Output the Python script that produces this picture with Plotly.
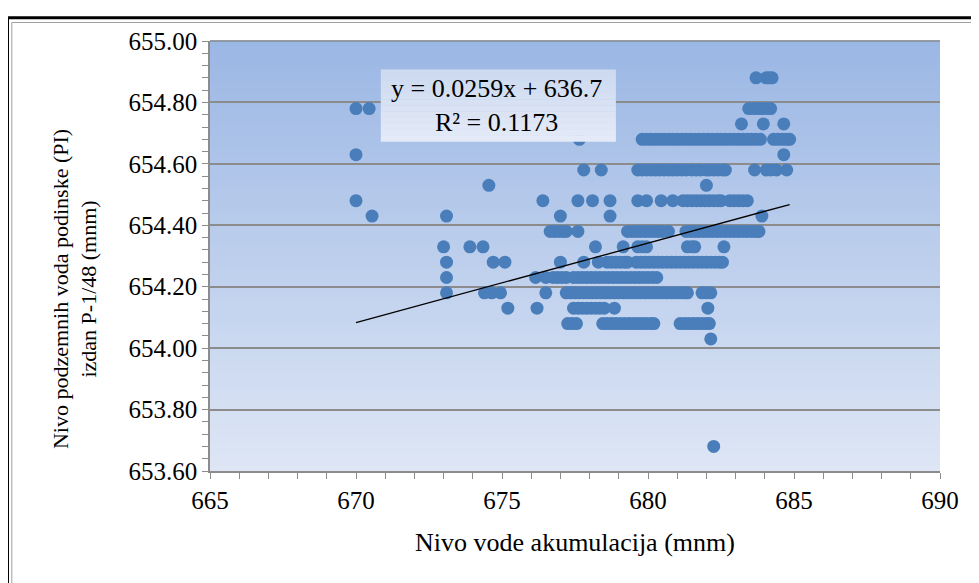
import plotly.graph_objects as go

# water level points, grouped by groundwater level (y)
x_65488 = [683.7, 684.05, 684.15, 684.25]
x_65478 = [670.0, 670.45, 683.45, 683.6, 683.75, 683.9, 684.05, 684.2]
x_65473 = [683.2, 683.95, 684.65]
x_65468 = [677.65, 679.8, 679.95, 680.1, 680.25, 680.4, 680.55, 680.7, 680.85, 681.0, 681.15,
           681.3, 681.45, 681.6, 681.75, 681.9, 682.05, 682.2, 682.35, 682.5, 682.65, 682.8,
           682.95, 683.1, 683.25, 683.4, 683.55, 683.7, 683.85, 684.3, 684.45, 684.6, 684.75, 684.85]
x_65463 = [670.0, 684.65]
x_65458 = [677.8, 678.4, 679.65, 679.8, 679.95, 680.1, 680.25, 680.4, 680.55, 680.7, 680.85,
           681.0, 681.15, 681.3, 681.5, 681.65, 681.8, 682.0, 682.1, 682.25, 682.4, 682.55,
           682.65, 683.65, 684.05, 684.2, 684.4, 684.75]
x_65453 = [674.55, 682.0]
x_65448 = [670.0, 676.4, 677.6, 678.1, 678.7, 679.65, 679.95, 680.45, 680.85, 681.2, 681.35,
           681.5, 681.65, 681.8, 681.95, 682.1, 682.25, 682.4, 682.5, 682.8, 682.95, 683.1,
           683.25, 683.4]
x_65443 = [670.55, 673.1, 677.0, 678.7, 683.9]
x_65438 = [676.65, 676.8, 676.95, 677.1, 677.2, 677.6, 679.3, 679.45, 679.6, 679.75, 679.9,
           680.05, 680.2, 680.35, 680.5, 680.7, 681.3, 681.45, 681.6, 681.75, 681.9, 682.05,
           682.2, 682.35, 682.5, 682.65, 682.8, 682.95, 683.1, 683.25, 683.4, 683.55, 683.7, 683.8]
x_65433 = [673.0, 673.9, 674.35, 678.2, 679.15, 679.65, 679.8, 679.95, 681.35, 681.5, 681.6, 682.6]
x_65428 = [673.1, 674.7, 675.1, 677.0, 677.8, 678.3, 678.6, 678.75, 678.9, 679.05, 679.2, 679.3,
           679.6, 679.75, 679.9, 680.05, 680.2, 680.35, 680.5, 680.65, 680.8, 680.95, 681.1,
           681.25, 681.4, 681.55, 681.7, 681.85, 682.0, 682.15, 682.3, 682.45, 682.55]
x_65423 = [673.1, 676.15, 676.5, 676.75, 676.9, 677.05, 677.2, 677.45, 677.6, 677.75, 677.9,
           678.05, 678.2, 678.35, 678.5, 678.65, 678.8, 678.95, 679.1, 679.25, 679.4, 679.55,
           679.7, 679.85, 680.0, 680.15, 680.3]
x_65418 = [673.1, 674.4, 674.65, 674.95, 676.5, 677.2, 677.35, 677.5, 677.65, 677.8, 677.95,
           678.1, 678.25, 678.4, 678.55, 678.7, 678.85, 679.0, 679.15, 679.3, 679.45, 679.6,
           679.75, 679.9, 680.05, 680.2, 680.35, 680.5, 680.65, 680.8, 680.95, 681.1, 681.25,
           681.35, 681.85, 682.0, 682.15]
x_65413 = [675.2, 676.2, 677.45, 677.6, 677.75, 677.9, 678.05, 678.2, 678.35, 678.5, 678.85, 682.05]
x_65408 = [677.25, 677.4, 677.55, 678.45, 678.6, 678.75, 678.9, 679.05, 679.2, 679.35, 679.5,
           679.65, 679.8, 679.95, 680.1, 680.2, 681.1, 681.25, 681.4, 681.55, 681.7, 681.85,
           682.0, 682.1]
x_65403 = [682.15]
x_65368 = [682.25]

rows = {654.88: x_65488, 654.78: x_65478, 654.73: x_65473, 654.68: x_65468, 654.63: x_65463,
        654.58: x_65458, 654.53: x_65453, 654.48: x_65448, 654.43: x_65443, 654.38: x_65438,
        654.33: x_65433, 654.28: x_65428, 654.23: x_65423, 654.18: x_65418, 654.13: x_65413,
        654.08: x_65408, 654.03: x_65403, 653.68: x_65368}

slope = 0.0259
intercept = 636.73
eq_text = "y = 0.0259x + 636.7<br>R² = 0.1173"

xs, ys = [], []
for lvl, row in rows.items():
    xs += row
    ys += [lvl] * len(row)

fig = go.Figure()
fig.add_trace(go.Scatter(x=xs, y=ys, mode="markers",
                         marker=dict(color="#4A7EBB", size=13, line=dict(width=0)),
                         showlegend=False))
x_line = [min(xs), max(xs)]
fig.add_trace(go.Scatter(x=x_line, y=[slope * v + intercept for v in x_line], mode="lines",
                         line=dict(color="black", width=1.3), showlegend=False))

# gradient plot background (strips)
n = 80
top, bot = (155, 183, 228), (222, 230, 245)
shapes = []
for i in range(n):
    t = i / (n - 1)
    c = tuple(round(top[k] + (bot[k] - top[k]) * t) for k in range(3))
    shapes.append(dict(type="rect", xref="x domain", yref="y domain", x0=0, x1=1,
                       y0=1 - (i + 1) / n, y1=1 - i / n + 0.002, layer="below",
                       line=dict(width=0), fillcolor="rgb(%d,%d,%d)" % c))
# top gridline at 655.00
shapes.append(dict(type="line", xref="x domain", yref="y domain", x0=0, x1=1, y0=1, y1=1,
                   line=dict(color="#8C8C8C", width=1.5), layer="below"))

# equation box
btop, bbot = (205, 218, 240), (228, 234, 247)
m = 12
for i in range(m):
    t = i / (m - 1)
    c = tuple(round(btop[k] + (bbot[k] - btop[k]) * t) for k in range(3))
    y1 = 0.9326 - (0.9326 - 0.7658) * i / m
    y0 = 0.9326 - (0.9326 - 0.7658) * (i + 1) / m
    shapes.append(dict(type="rect", xref="paper", yref="paper", x0=0.234, x1=0.556,
                       y0=y0, y1=y1 + 0.001, layer="above", line=dict(width=0),
                       fillcolor="rgb(%d,%d,%d)" % c))

# outer frame
shapes.append(dict(type="rect", xref="paper", yref="paper", x0=-0.2774, x1=1.2, y0=-0.4, y1=1.054,
                   line=dict(color="black", width=3), fillcolor="rgba(0,0,0,0)", layer="below"))
shapes.append(dict(type="rect", xref="paper", yref="paper", x0=-0.2715, x1=1.2, y0=-0.4, y1=1.043,
                   line=dict(color="#A0A0A0", width=1), fillcolor="rgba(0,0,0,0)", layer="below"))

font = "Liberation Serif, Times New Roman, serif"
fig.update_layout(
    width=979, height=583, autosize=False,
    margin=dict(l=202, r=47, t=33, b=120),
    paper_bgcolor="white", plot_bgcolor="rgba(0,0,0,0)",
    font=dict(family=font, size=25, color="black"),
    shapes=shapes,
    annotations=[
        dict(text=eq_text, xref="paper", yref="paper", x=0.393, y=0.849, xanchor="center",
             yanchor="middle", showarrow=False, font=dict(size=26, family=font), align="center"),
        dict(text="Nivo podzemnih voda podinske (PI)<br>izdan P-1/48 (mnm)", xref="paper", yref="paper",
             x=-0.185, y=0.423, xanchor="center", yanchor="middle", textangle=-90,
             showarrow=False, font=dict(size=22, family=font)),
    ],
)
fig.update_xaxes(range=[665, 690], dtick=5, showgrid=False, zeroline=False,
                 showline=True, linecolor="#8C8C8C", linewidth=1.5,
                 ticks="outside", ticklen=6, tickcolor="#8C8C8C",
                 minor=dict(dtick=1, ticks="outside", ticklen=6, tickcolor="#8C8C8C"),
                 title=dict(text="Nivo vode akumulacija (mnm)", standoff=20,
                            font=dict(size=26, family=font)))
fig.update_yaxes(range=[653.6, 655.0], dtick=0.2, tickformat=".2f", showgrid=True,
                 gridcolor="#8C8C8C", gridwidth=1.5, zeroline=False,
                 showline=True, linecolor="#8C8C8C", linewidth=1.5,
                 ticks="outside", ticklen=6, tickcolor="#8C8C8C",
                 minor=dict(dtick=0.04, ticks="outside", ticklen=6, tickcolor="#8C8C8C"))

fig.write_html("out.html")
